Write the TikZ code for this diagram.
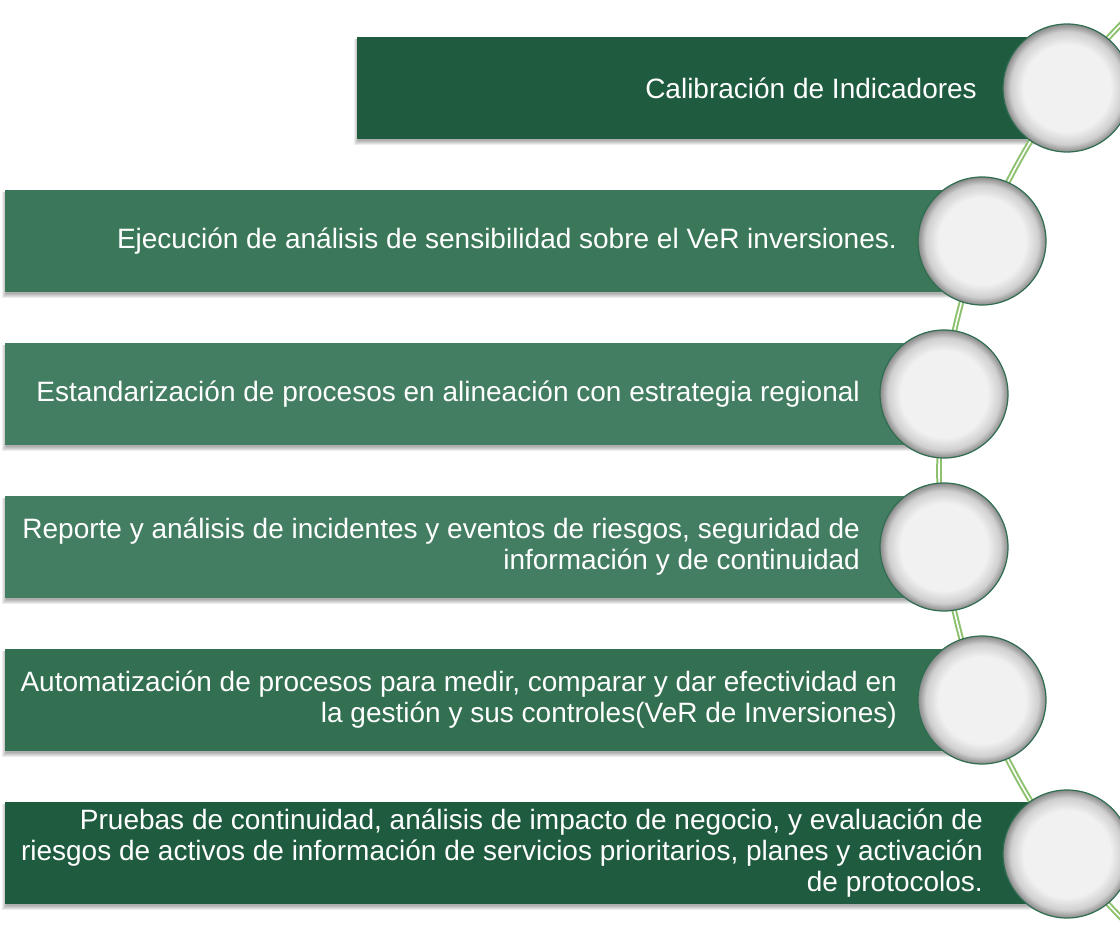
\documentclass[tikz,border=0pt]{standalone}
\usepackage{fontspec}
\setmainfont{Liberation Sans}
\definecolor{gdark}{HTML}{1F5B3F}
\definecolor{gmid}{HTML}{3B7759}
\definecolor{glight}{HTML}{447E62}
\definecolor{gmidd}{HTML}{336F51}
\definecolor{ring}{HTML}{2F6E50}
\definecolor{arcg}{HTML}{8DC16D}
\definecolor{ballin}{HTML}{F1F1F1}
\definecolor{ballmid}{HTML}{CFCFCF}
\definecolor{ballout}{HTML}{8A8A8A}
\pgfdeclareradialshading{ballshade}{\pgfpointorigin}{color(0bp)=(ballin); color(17bp)=(ballin); color(22bp)=(ballmid); color(25bp)=(ballout); color(50bp)=(ballout)}
\newcommand\barshadow[4]{%
  \foreach \k in {0.5,1.5,2.5,3.5,4.5}{%
    \fill[black,opacity=0.07] (#1+1.5-\k,#2+2) rectangle (#3+\k,#4+1+1.2*\k);
  }}
\begin{document}
\begin{tikzpicture}[x=1pt,y=-1pt,
  barbox/.style={rectangle, inner sep=0pt, anchor=north west, minimum height=102pt},
  bartext/.style={text=white, inner sep=0pt, anchor=east, align=right, font=\fontsize{28}{31}\selectfont},
  ball/.style={circle, inner sep=0pt, minimum size=128pt, draw=ring, line width=1.2pt, shading=ballshade},
  arcline/.style={draw=arcg, line width=2pt, double=white, double distance=1.6pt}]
\useasboundingbox (0,0) rectangle (1120,928);
\fill[white] (0,0) rectangle (1120,928);
\clip (0,0) rectangle (1120,928);
% shadows
\barshadow{357}{37}{1067}{139}
\barshadow{5}{190}{982}{292}
\barshadow{5}{343}{944}{445}
\barshadow{5}{496}{944}{598}
\barshadow{5}{649}{982}{751}
\barshadow{5}{802}{1067}{904}
% bars
\node[barbox, fill=gdark, minimum width=710pt] (b1) at (357,37) {};
\node[barbox, fill=gmid, minimum width=977pt] (b2) at (5,190) {};
\node[barbox, fill=glight, minimum width=939pt] (b3) at (5,343) {};
\node[barbox, fill=glight, minimum width=939pt] (b4) at (5,496) {};
\node[barbox, fill=gmidd, minimum width=977pt] (b5) at (5,649) {};
\node[barbox, fill=gdark, minimum width=1062pt] (b6) at (5,802) {};
% arc
\coordinate (arcc) at (1578,471);
\draw[arcline] (arcc) circle[radius=639];
% circles
\node[ball] (c1) at (1067,88) {};
\node[ball] (c2) at (982,241) {};
\node[ball] (c3) at (944,394) {};
\node[ball] (c4) at (944,547) {};
\node[ball] (c5) at (982,700) {};
\node[ball] (c6) at (1067,854) {};
% texts
\node[bartext] (t1) at (977,88) {Calibración de Indicadores};
\node[bartext] (t2) at (897,241) {Ejecución de análisis de sensibilidad sobre el VeR inversiones.};
\node[bartext] (t3) at (860,394) {Estandarización de procesos en alineación con estrategia regional};
\node[bartext] (t4) at (860,547) {Reporte y análisis de incidentes y eventos de riesgos, seguridad de\\información y de continuidad};
\node[bartext] (t5) at (897,700) {Automatización de procesos para medir, comparar y dar efectividad en\\la gestión y sus controles(VeR de Inversiones)};
\node[bartext] (t6) at (983,853) {Pruebas de continuidad, análisis de impacto de negocio, y evaluación de\\riesgos de activos de información de servicios prioritarios, planes y activación\\de protocolos.};
\end{tikzpicture}
\end{document}
